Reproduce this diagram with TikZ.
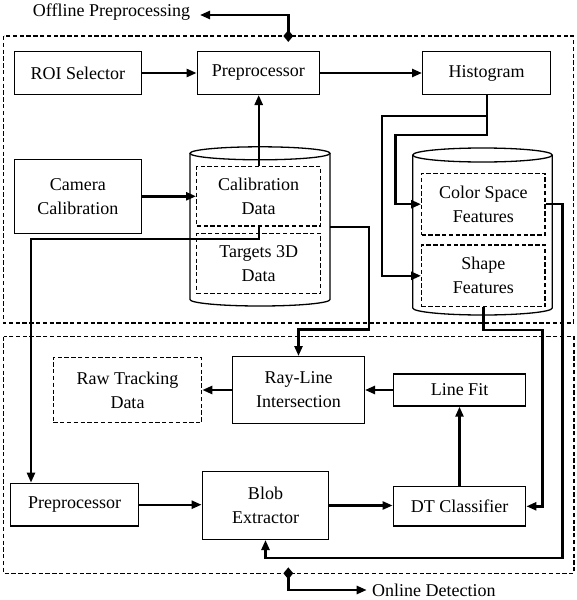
\documentclass[tikz,border=0pt]{standalone}
\usepackage{fontspec}
\setmainfont{Liberation Serif}
\usetikzlibrary{arrows.meta,shapes.geometric,calc}
\begin{document}
\begin{tikzpicture}[x=1pt,y=-1pt,
  every node/.style={font=\fontsize{18}{24}\selectfont, align=center, inner sep=0pt},
  box/.style={draw, line width=1.4pt},
  dbox/.style={draw, line width=1.3pt, dash pattern=on 4.3pt off 2.5pt},
  outerbox/.style={line width=1.3pt, dash pattern=on 4.3pt off 2.5pt},
  cyl/.style={line width=1.3pt},
  conn/.style={line width=2.4pt},
  arr/.style={conn, -{Triangle[length=10pt,width=8pt]}},
  dia/.style={diamond, fill=black, inner sep=0pt, minimum width=10pt, minimum height=12pt}
]
\useasboundingbox (0,0) rectangle (577,600);

% outer dashed regions
\draw[outerbox] (3.5,36) rectangle (573.3,323);
\draw[outerbox] (3.5,336.5) rectangle (574,573.3);

% cylinders
\draw[cyl, fill=white] (190,153.3) -- (190,299.5) arc[start angle=180,end angle=360,x radius=70pt,y radius=6.5pt] -- (330,153.3);
\draw[cyl] (260,153.3) ellipse[x radius=70pt,y radius=6.5pt];
\draw[cyl, fill=white] (412.7,155) -- (412.7,308) arc[start angle=180,end angle=360,x radius=69.8pt,y radius=7pt] -- (552.3,155);
\draw[cyl] (482.5,155) ellipse[x radius=69.8pt,y radius=7pt];

% nodes
\node[box, minimum width=127pt, minimum height=42.6pt] (roi) at (77.8,73) {ROI Selector};
\node[box, minimum width=122pt, minimum height=42.6pt] (prep1) at (258.3,73) {Preprocessor};
\node[box, minimum width=128pt, minimum height=42.6pt] (hist) at (486.7,73) {Histogram};
\node[box, minimum width=127pt, minimum height=74pt] (cam) at (77.8,196.3) {Camera\\Calibration};
\node[dbox, minimum width=124pt, minimum height=59.3pt] (calib) at (258.7,196.3) {Calibration\\Data};
\node[dbox, minimum width=124pt, minimum height=60pt] (targ) at (258.7,263.3) {Targets 3D\\Data};
\node[dbox, minimum width=123.3pt, minimum height=61.7pt] (color) at (483.3,204.2) {Color Space\\Features};
\node[dbox, minimum width=123.3pt, minimum height=61.7pt] (shape) at (483.3,275.8) {Shape\\Features};
\node[dbox, minimum width=148.4pt, minimum height=65.4pt] (raw) at (127.5,390) {Raw Tracking\\Data};
\node[box, minimum width=131.6pt, minimum height=66.6pt] (ray) at (298.5,390) {Ray-Line\\Intersection};
\node[box, minimum width=132.4pt, minimum height=32pt] (lfit) at (459.5,390) {Line Fit};
\node[box, minimum width=128pt, minimum height=42.7pt] (prep2) at (74.7,504.7) {Preprocessor};
\node[box, minimum width=126.4pt, minimum height=67.6pt] (blob) at (265.5,505.5) {Blob\\Extractor};
\node[box, minimum width=132.4pt, minimum height=39.3pt] (dt) at (459.5,506.3) {DT Classifier};

\node[anchor=base west] (offl) at (32.7,16.5) {Offline Preprocessing};
\node[anchor=base west] (onl) at (372,596.5) {Online Detection};

\coordinate (c1e) at (330,226.7);
\coordinate (otip) at (200,15);
\coordinate (btip) at (366.7,590);

% connectors
\draw[arr] (roi) -- (prep1);
\draw[arr] (prep1) -- (hist);
\draw[arr] (calib.north) -- (calib.north |- prep1.south);
\draw[arr] (cam) -- (calib);
\draw[arr] (hist.south) -- ++(0,20.7) -| ($(shape.west)+(-39,0)$) -- (shape.west);
\draw[arr] (hist.south) -- ++(0,40) -| ($(color.west)+(-25.7,0)$) -- (color.west);
\draw[arr] (calib.south) -- ++(0,12.3) -| ([xshift=21pt]prep2.north west);
\draw[arr] (c1e) -- ++(39,0) |- ($(ray.north)+(0,-26.7)$) -- (ray.north);
\draw[arr] (ray) -- (raw);
\draw[arr] (lfit) -- (ray);
\draw[arr] (dt.north) -- (lfit.south);
\draw[arr] (prep2.east) -- (prep2.east -| blob.west);
\draw[arr] (blob.east) -- (blob.east -| dt.west);
\draw[arr] (shape.south) -- ++(0,22.5) -| ($(dt.east)+(16,0)$) -- (dt.east);
\draw[arr] (color.east) -- ++(16.7,0) |- ($(blob.south)+(0,18.2)$) -- (blob.south);

\node[dia] (dtop) at (288.3,36) {};
\node[dia] (dbot) at (288.3,573.3) {};
\draw[arr] (dtop.center) |- (otip);
\draw[arr] (dbot.center) |- (btip);
\end{tikzpicture}
\end{document}
